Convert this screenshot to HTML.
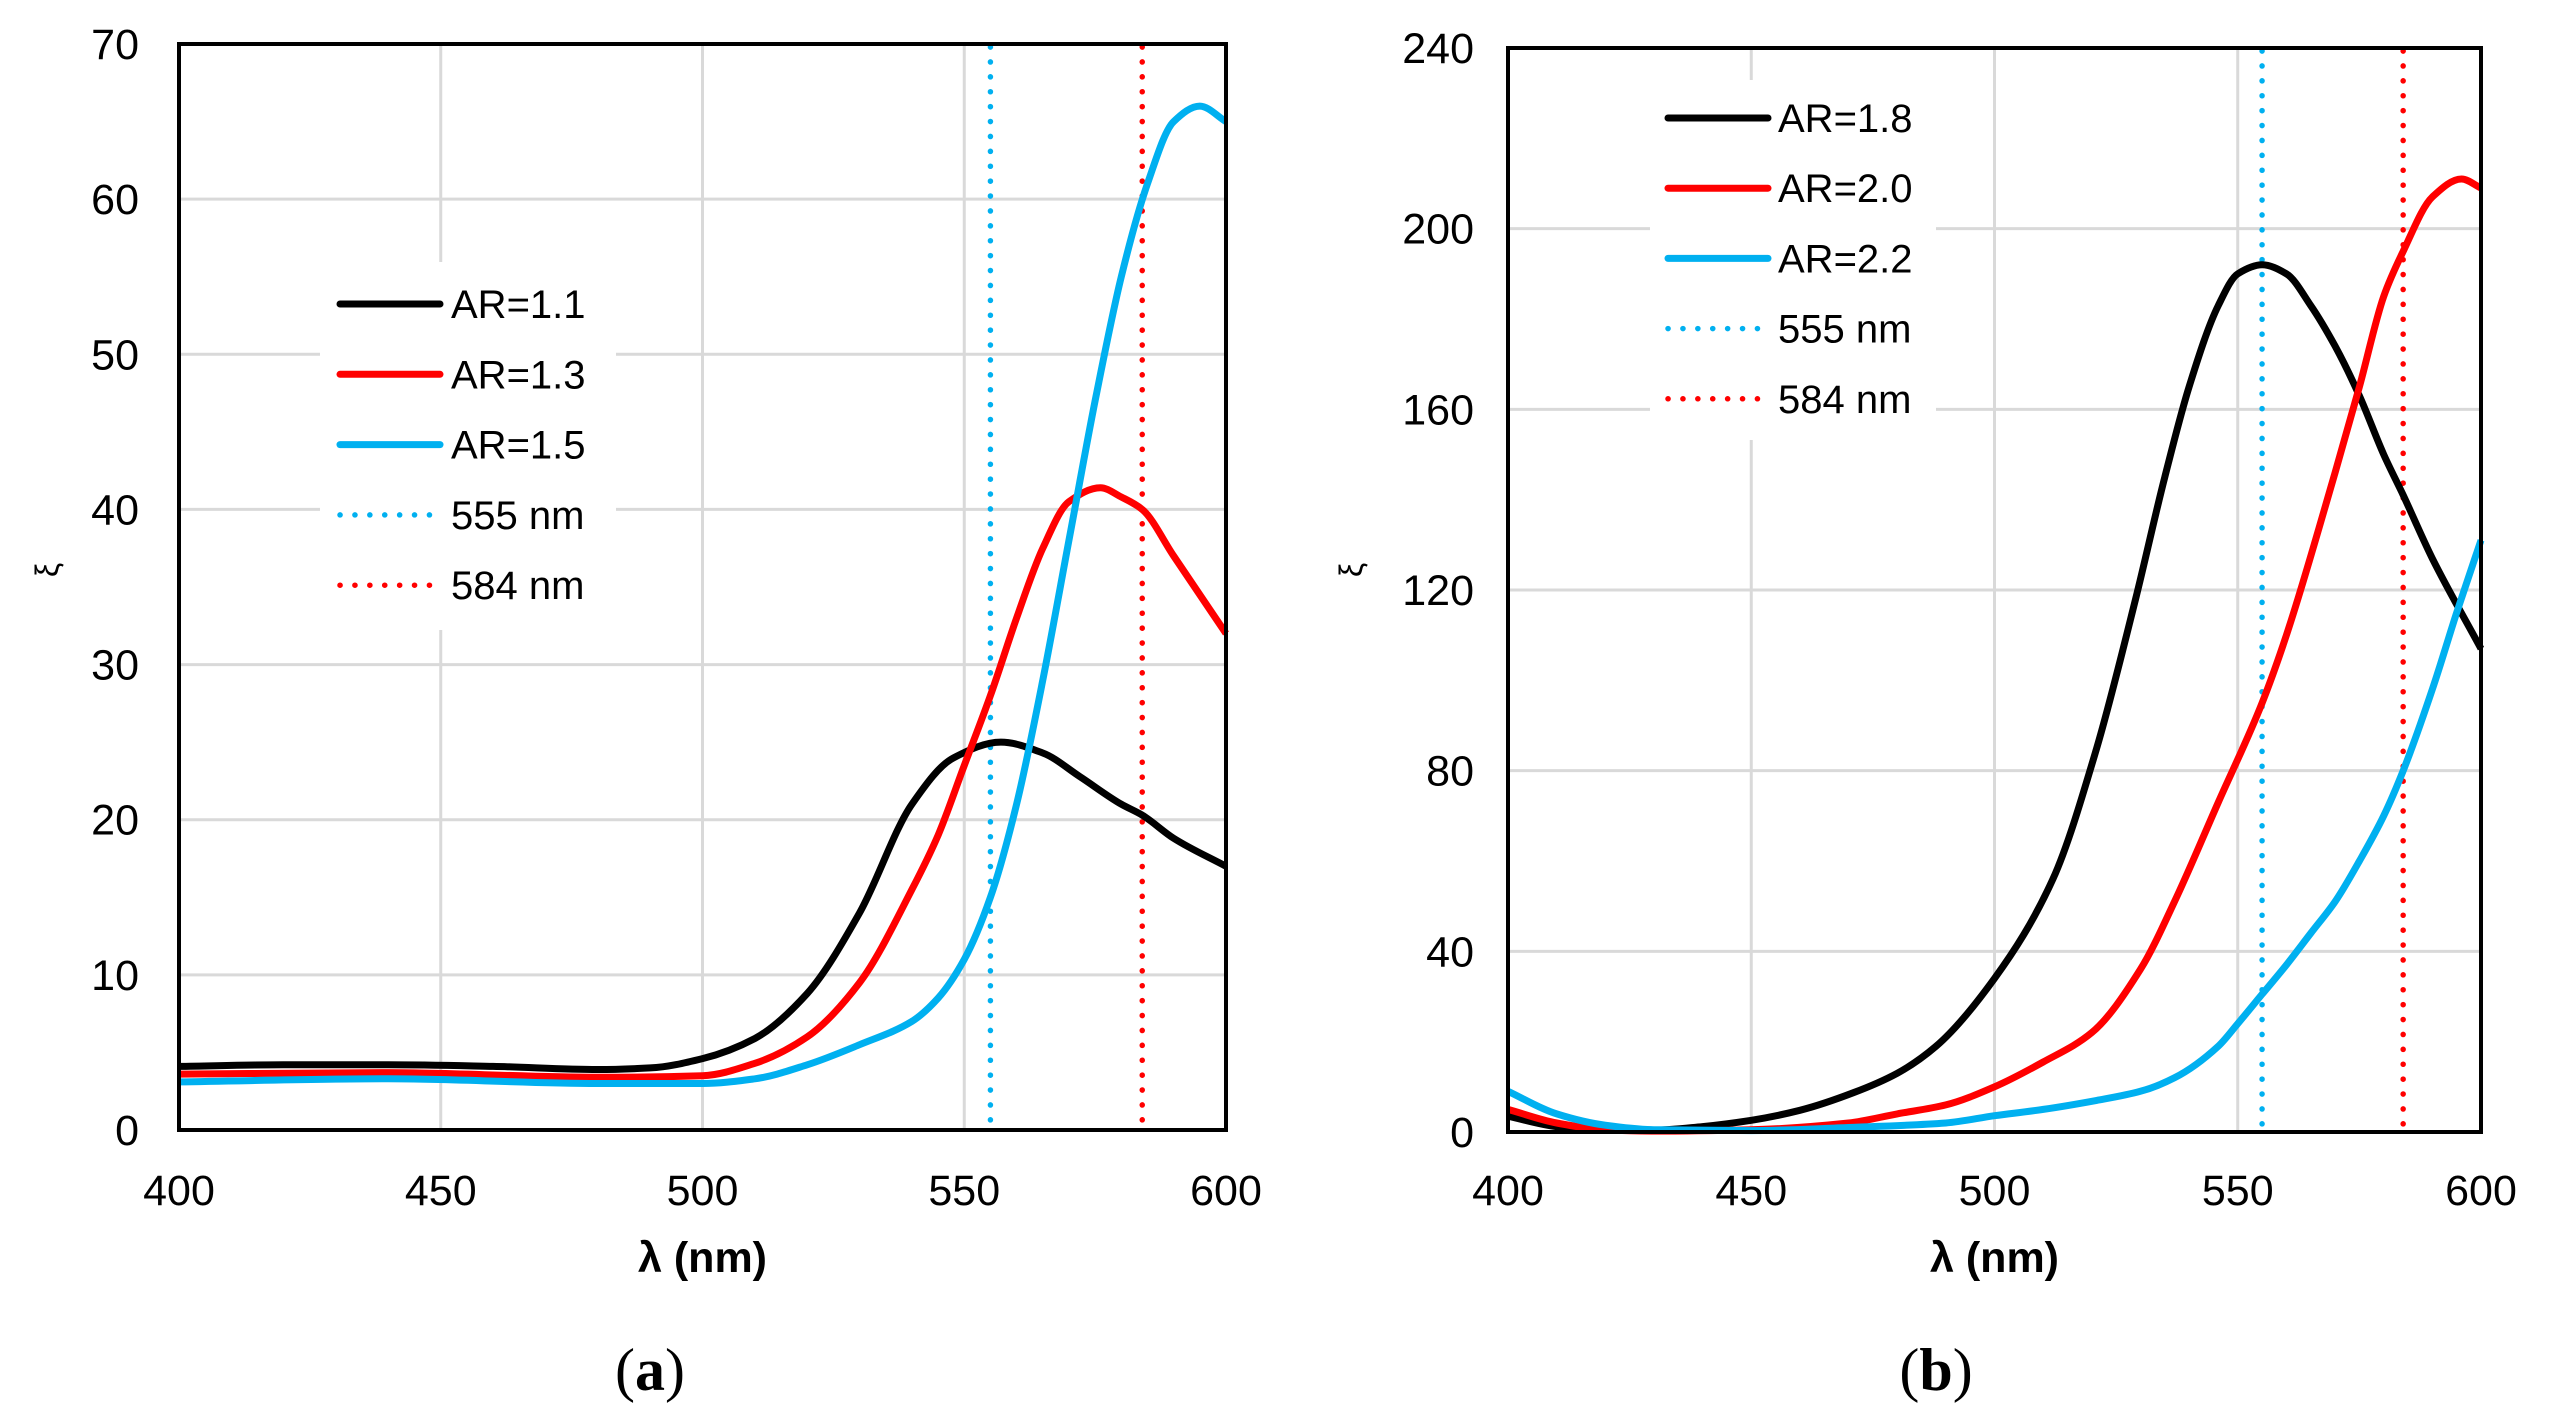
<!DOCTYPE html>
<html><head><meta charset="utf-8">
<style>
html,body{margin:0;padding:0;background:#fff;}
svg{display:block;}
text{font-family:"Liberation Sans",Arial,sans-serif;fill:#000;}
</style></head>
<body>
<svg id="fig" width="2553" height="1427" viewBox="0 0 2553 1427" xmlns="http://www.w3.org/2000/svg"></svg>
<script>
// ---- Panel (a) data ----
const xTicksA = [400, 450, 500, 550, 600];
const yTicksA = [0, 10, 20, 30, 40, 50, 60, 70];
const ar11X = [400,420,440,460,480,490,500,510,520,530,540,548,557,565,572,580,584,590,600];
const ar11Y = [4.1,4.2,4.2,4.1,3.9,4.0,4.6,5.9,8.8,14,21,24,25,24.3,22.8,21,20.3,18.8,17];
const ar13X = [400,440,480,500,510,520,530,540,545,550,555,560,565,570,576,580,584,590,600];
const ar13Y = [3.6,3.7,3.4,3.5,4.3,6,9.5,15.5,19,23.5,28,33,37.5,40.5,41.4,40.8,40,37,32];
const ar15X = [400,440,480,500,510,520,530,540,545,550,555,560,565,570,575,580,585,590,595,600];
const ar15Y = [3.1,3.3,3.0,3.0,3.3,4.2,5.5,7,8.5,11,15,21,29,38,47,55,61,65,66,65];
// ---- Panel (b) data ----
const xTicksB = [400, 450, 500, 550, 600];
const yTicksB = [0, 40, 80, 120, 160, 200, 240];
const ar18X = [400,410,420,430,440,450,460,471,480,488,500,512,521,529,535,540,546,550,555,560,565,570,575,580,584,590,600];
const ar18Y = [3.5,1.2,0.4,0.4,1.2,2.6,4.8,8.7,13,19,34,56,85,118,145,165,183,190,192,190,183,174,163,150,141,127,107];
const ar20X = [400,410,420,430,450,470,480,490,500,510,520,530,537,546,555,560,570,575,580,584,590,596,600];
const ar20Y = [5,2,0.5,0.2,0.5,2,4,6,10,15.5,22,36,51,73,95,110,146,165,185,195,207,211,209];
const ar22X = [400,410,420,430,450,470,490,500,510,521,530,537,546,550,555,560,565,570,575,580,584,590,595,600];
const ar22Y = [9,4,1.5,0.5,0.3,1,2,3.6,5,7,9,12,19,24,30.5,37,44,51,60,70,80,98,115,131];
const legendA = ['AR=1.1','AR=1.3','AR=1.5','555 nm','584 nm'];
const legendB = ['AR=1.8','AR=2.0','AR=2.2','555 nm','584 nm'];
const markers = [555, 584];

const NS = 'http://www.w3.org/2000/svg';
const svg = document.getElementById('fig');
function mk(tag, attrs, parent){
  const e = document.createElementNS(NS, tag);
  for (const k in attrs) e.setAttribute(k, attrs[k]);
  (parent||svg).appendChild(e);
  return e;
}
// monotone cubic (Fritsch-Carlson) path
function smooth(pts){
  const n = pts.length;
  const dx = [], m = [], t = [];
  for (let i = 0; i < n-1; i++){ dx[i] = pts[i+1][0]-pts[i][0]; m[i] = (pts[i+1][1]-pts[i][1])/dx[i]; }
  t[0] = m[0]; t[n-1] = m[n-2];
  for (let i = 1; i < n-1; i++){
    if (m[i-1]*m[i] <= 0) t[i] = 0;
    else { const w1 = 2*dx[i]+dx[i-1], w2 = dx[i]+2*dx[i-1]; t[i] = (w1+w2)/(w1/m[i-1]+w2/m[i]); }
  }
  let d = 'M' + pts[0][0].toFixed(1) + ',' + pts[0][1].toFixed(1);
  for (let i = 0; i < n-1; i++){
    const h = dx[i]/3;
    d += ' C' + (pts[i][0]+h).toFixed(1)+','+(pts[i][1]+t[i]*h).toFixed(1)+' '+(pts[i+1][0]-h).toFixed(1)+','+(pts[i+1][1]-t[i+1]*h).toFixed(1)+' '+pts[i+1][0].toFixed(1)+','+pts[i+1][1].toFixed(1);
  }
  return d;
}
const colors = ['#000000','#ff0000','#00b0f0'];

function panel(cfg){
  const g = mk('g', {});
  
  
  const L = cfg.L, R = cfg.R, T = cfg.T, B = cfg.B;
  const ymax = cfg.yTicks[cfg.yTicks.length-1];
  const sx = v => L + (v - 400) / 200 * (R - L);
  const sy = v => B - v / ymax * (B - T);
  cfg.yTicks.forEach(t => {
    if (t === 0) return;
    const l = mk('line', {x1:L, x2:R, y1:sy(t), y2:sy(t), stroke:'#d9d9d9', 'stroke-width':3}, g);
    
    
  });
  cfg.xTicks.forEach(t => {
    if (t === 400 || t === 600) return;
    const l = mk('line', {x1:sx(t), x2:sx(t), y1:T, y2:B, stroke:'#d9d9d9', 'stroke-width':3}, g);
    
    
  });
  markers.forEach((m, i) => {
    const l = mk('line', {x1:sx(m), x2:sx(m), y1:T+3, y2:B, stroke: i===0?'#00b0f0':'#ff0000', 'stroke-width':5.5, 'stroke-dasharray':'0.1 14.8', 'stroke-linecap':'round'}, g);
    
    
  });
  cfg.series.forEach((s, i) => {
    const pts = s.x.map((xv, j) => [sx(xv), sy(s.y[j])]);
    const p = mk('path', {d:smooth(pts), fill:'none', stroke:colors[i], 'stroke-width':7, 'stroke-linejoin':'round'}, g);
    
    
  });
  const lb = cfg.leg;
  const bg = mk('rect', {x:lb.bx, y:lb.by, width:lb.bw, height:lb.bh, fill:'#fff'}, g);
  
  
  cfg.legend.forEach((lab, i) => {
    const y = lb.y0 + i * lb.dy;
    const col = i < 3 ? colors[i] : (i === 3 ? '#00b0f0' : '#ff0000');
    const ln = mk('line', {x1:lb.x1, x2: i<3 ? lb.x2 : lb.x2-8, y1:y, y2:y, stroke:col, 'stroke-width': i<3?7:5.5, 'stroke-linecap':'round', 'stroke-dasharray': i<3 ? 'none' : '0.1 14.8'}, g);
    
    
    const tx = mk('text', {x:lb.tx, y:y+14, 'font-size':40}, g);
    tx.textContent = lab;
    
    
  });
  const fr = mk('rect', {x:L, y:T, width:R-L, height:B-T, fill:'none', stroke:'#000', 'stroke-width':4}, g);
  
  
  cfg.yTicks.forEach(t => {
    const tx = mk('text', {x:cfg.yLabX, y:sy(t)+15, 'font-size':43, 'text-anchor':'end'}, g);
    tx.textContent = t;
    
    
  });
  cfg.xTicks.forEach(t => {
    const tx = mk('text', {x:sx(t), y:1205, 'font-size':43, 'text-anchor':'middle'}, g);
    tx.textContent = t;
    
    
  });
  const xt = mk('text', {x:(L+R)/2, y:1272, 'font-size':43, 'font-weight':'bold', 'text-anchor':'middle'}, g);
  xt.textContent = 'λ (nm)';
  
  
  const yt = mk('text', {x:0, y:0, 'font-size':32, 'text-anchor':'middle', transform:'translate(' + (cfg.yTitleX) + ',' + 570 + ') rotate(-90)'}, g);
  yt.textContent = 'ξ';
  
  
  const cap = mk('text', {x:cfg.capX, y:1390, 'font-size':60, 'text-anchor':'middle', style:'font-family:"Liberation Serif",serif'}, g);
  cap.innerHTML = '(<tspan font-weight="bold">' + cfg.cap + '</tspan>)';
  
  
}

panel({name:'panel-a', L:179, R:1226, T:44, B:1130, xTicks:xTicksA, yTicks:yTicksA,
  series:[{x:ar11X,y:ar11Y,label:'AR1.1'},{x:ar13X,y:ar13Y,label:'AR1.3'},{x:ar15X,y:ar15Y,label:'AR1.5'}],
  legend:legendA, leg:{bx:320, by:262, bw:296, bh:368, x1:340, x2:440, tx:451, y0:304, dy:70.3},
  yLabX:139, yTitleX:58, capX:650, cap:'a'});
panel({name:'panel-b', L:1508, R:2481, T:48, B:1132, xTicks:xTicksB, yTicks:yTicksB,
  series:[{x:ar18X,y:ar18Y,label:'AR1.8'},{x:ar20X,y:ar20Y,label:'AR2.0'},{x:ar22X,y:ar22Y,label:'AR2.2'}],
  legend:legendB, leg:{bx:1650, by:80, bw:286, bh:360, x1:1668, x2:1768, tx:1778, y0:118, dy:70.2},
  yLabX:1474, yTitleX:1362, capX:1936, cap:'b'});
</script>
</body></html>
